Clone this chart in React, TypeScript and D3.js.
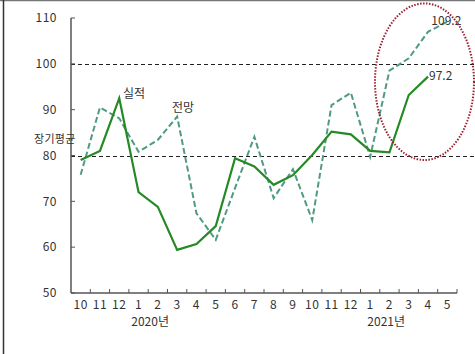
import React from "react";
import * as d3 from "d3";

const months = ["10", "11", "12", "1", "2", "3", "4", "5", "6", "7", "8", "9", "10", "11", "12", "1", "2", "3", "4", "5"];
const actual: (number | null)[] = [79.0, 81.0, 92.5, 72.0, 68.8, 59.4, 60.7, 64.6, 79.4, 77.6, 73.6, 75.7, 80.1, 85.2, 84.6, 81.0, 80.7, 93.2, 97.2, null];
const outlook: (number | null)[] = [75.8, 90.5, 88.1, 80.8, 83.4, 88.5, 67.4, 61.6, 72.9, 84.1, 70.7, 77.0, 65.9, 91.0, 93.7, 79.7, 98.5, 101.2, 107.0, 109.2];
const yTicks = [50, 60, 70, 80, 90, 100, 110];
const refLines = [80, 100];
const yearLabels = [
  { text: "2020년", index: 3, offset: 1.1 },
  { text: "2021년", index: 16, offset: 0.33 },
];
const lastActualLabel = "97.2";
const lastOutlookLabel = "109.2";

const W = 475;
const H = 354;
const left = 71;
const right = 457;
const top = 18;
const bottom = 293;
const FONT = "'Noto Sans CJK KR', 'DejaVu Sans', sans-serif";
const TXT = "#333";

export default function App() {
  const keys = months.map((m, i) => `${i}`);
  const x = d3.scaleBand<string>().domain(keys).range([left, right]).padding(0);
  const bw = x.bandwidth();
  const cx = (i: number) => (x(`${i}`) as number) + bw / 2;
  const y = d3.scaleLinear().domain([50, 110]).range([bottom, top]);

  const line = d3
    .line<number | null>()
    .defined((d) => d != null)
    .x((_, i) => cx(i))
    .y((d) => y(d as number));

  const lastA = actual.reduce((acc, v, i) => (v != null ? i : acc), 0);
  const lastO = outlook.reduce((acc, v, i) => (v != null ? i : acc), 0);

  return (
    <svg
      width={W}
      height={H}
      style={{ position: "absolute", left: 0, top: 0, background: "#fff" }}
      fontFamily={FONT}
    >
      {/* frame */}
      <line x1={0} x2={W} y1={0.5} y2={0.5} stroke="#777" strokeWidth={1.5} />
      <line x1={3.5} x2={3.5} y1={0} y2={H} stroke="#333" strokeWidth={1.5} />

      {/* reference lines */}
      {refLines.map((v) => (
        <line
          key={v}
          x1={left}
          x2={W}
          y1={Math.round(y(v)) + 0.5}
          y2={Math.round(y(v)) + 0.5}
          stroke="#222"
          strokeWidth={1}
          strokeDasharray="4,3"
        />
      ))}

      {/* y axis */}
      <line x1={left} x2={left} y1={top} y2={bottom} stroke="#555" strokeWidth={1.5} />
      {yTicks.map((t) => (
        <g key={t}>
          <line x1={left} x2={left + 4} y1={y(t)} y2={y(t)} stroke="#555" strokeWidth={1} />
          <text x={57} y={y(t)} dy="0.35em" textAnchor="end" fontSize={12} fill={TXT} letterSpacing={0.5}>
            {t}
          </text>
        </g>
      ))}

      {/* x axis */}
      <line x1={left} x2={right} y1={bottom} y2={bottom} stroke="#555" strokeWidth={1.5} />
      {keys.map((k) => (
        <line
          key={k}
          x1={(x(k) as number) + bw}
          x2={(x(k) as number) + bw}
          y1={bottom}
          y2={bottom - 4}
          stroke="#555"
          strokeWidth={1}
        />
      ))}
      {months.map((m, i) => (
        <text key={i} x={cx(i)} y={305} dy="0.35em" textAnchor="middle" fontSize={12} fill={TXT} letterSpacing={0.5}>
          {m}
        </text>
      ))}
      {yearLabels.map((l) => (
        <text
          key={l.text}
          x={(x(`${l.index}`) as number) + bw * l.offset}
          y={322}
          dy="0.35em"
          textAnchor="middle"
          fontSize={12}
          fill={TXT}
        >
          {l.text}
        </text>
      ))}

      {/* series */}
      <path d={line(outlook) ?? ""} fill="none" stroke="#4f9a82" strokeWidth={2} strokeDasharray="6,3" />
      <path d={line(actual) ?? ""} fill="none" stroke="#258a25" strokeWidth={2.2} />

      {/* annotations */}
      <text x={123} y={94} dy="0.35em" fontSize={12} fill={TXT}>실적</text>
      <text x={172} y={107.5} dy="0.35em" fontSize={12} fill={TXT}>전망</text>
      <text x={34} y={139.5} dy="0.35em" fontSize={11} letterSpacing={0.3} fill={TXT}>장기평균</text>
      <text x={cx(lastA) + 1} y={y(actual[lastA] as number) - 1} dy="0.35em" fontSize={12} fill={TXT}>
        {lastActualLabel}
      </text>
      <text x={cx(lastO) - 16} y={y(outlook[lastO] as number) - 0.5} dy="0.35em" fontSize={12} fill={TXT}>
        {lastOutlookLabel}
      </text>

      {/* highlight ellipse */}
      <ellipse
        cx={424.5}
        cy={81.7}
        rx={49.5}
        ry={78.3}
        fill="none"
        stroke="#9b2030"
        strokeWidth={2}
        strokeDasharray="1.5,1.5"
      />
    </svg>
  );
}
